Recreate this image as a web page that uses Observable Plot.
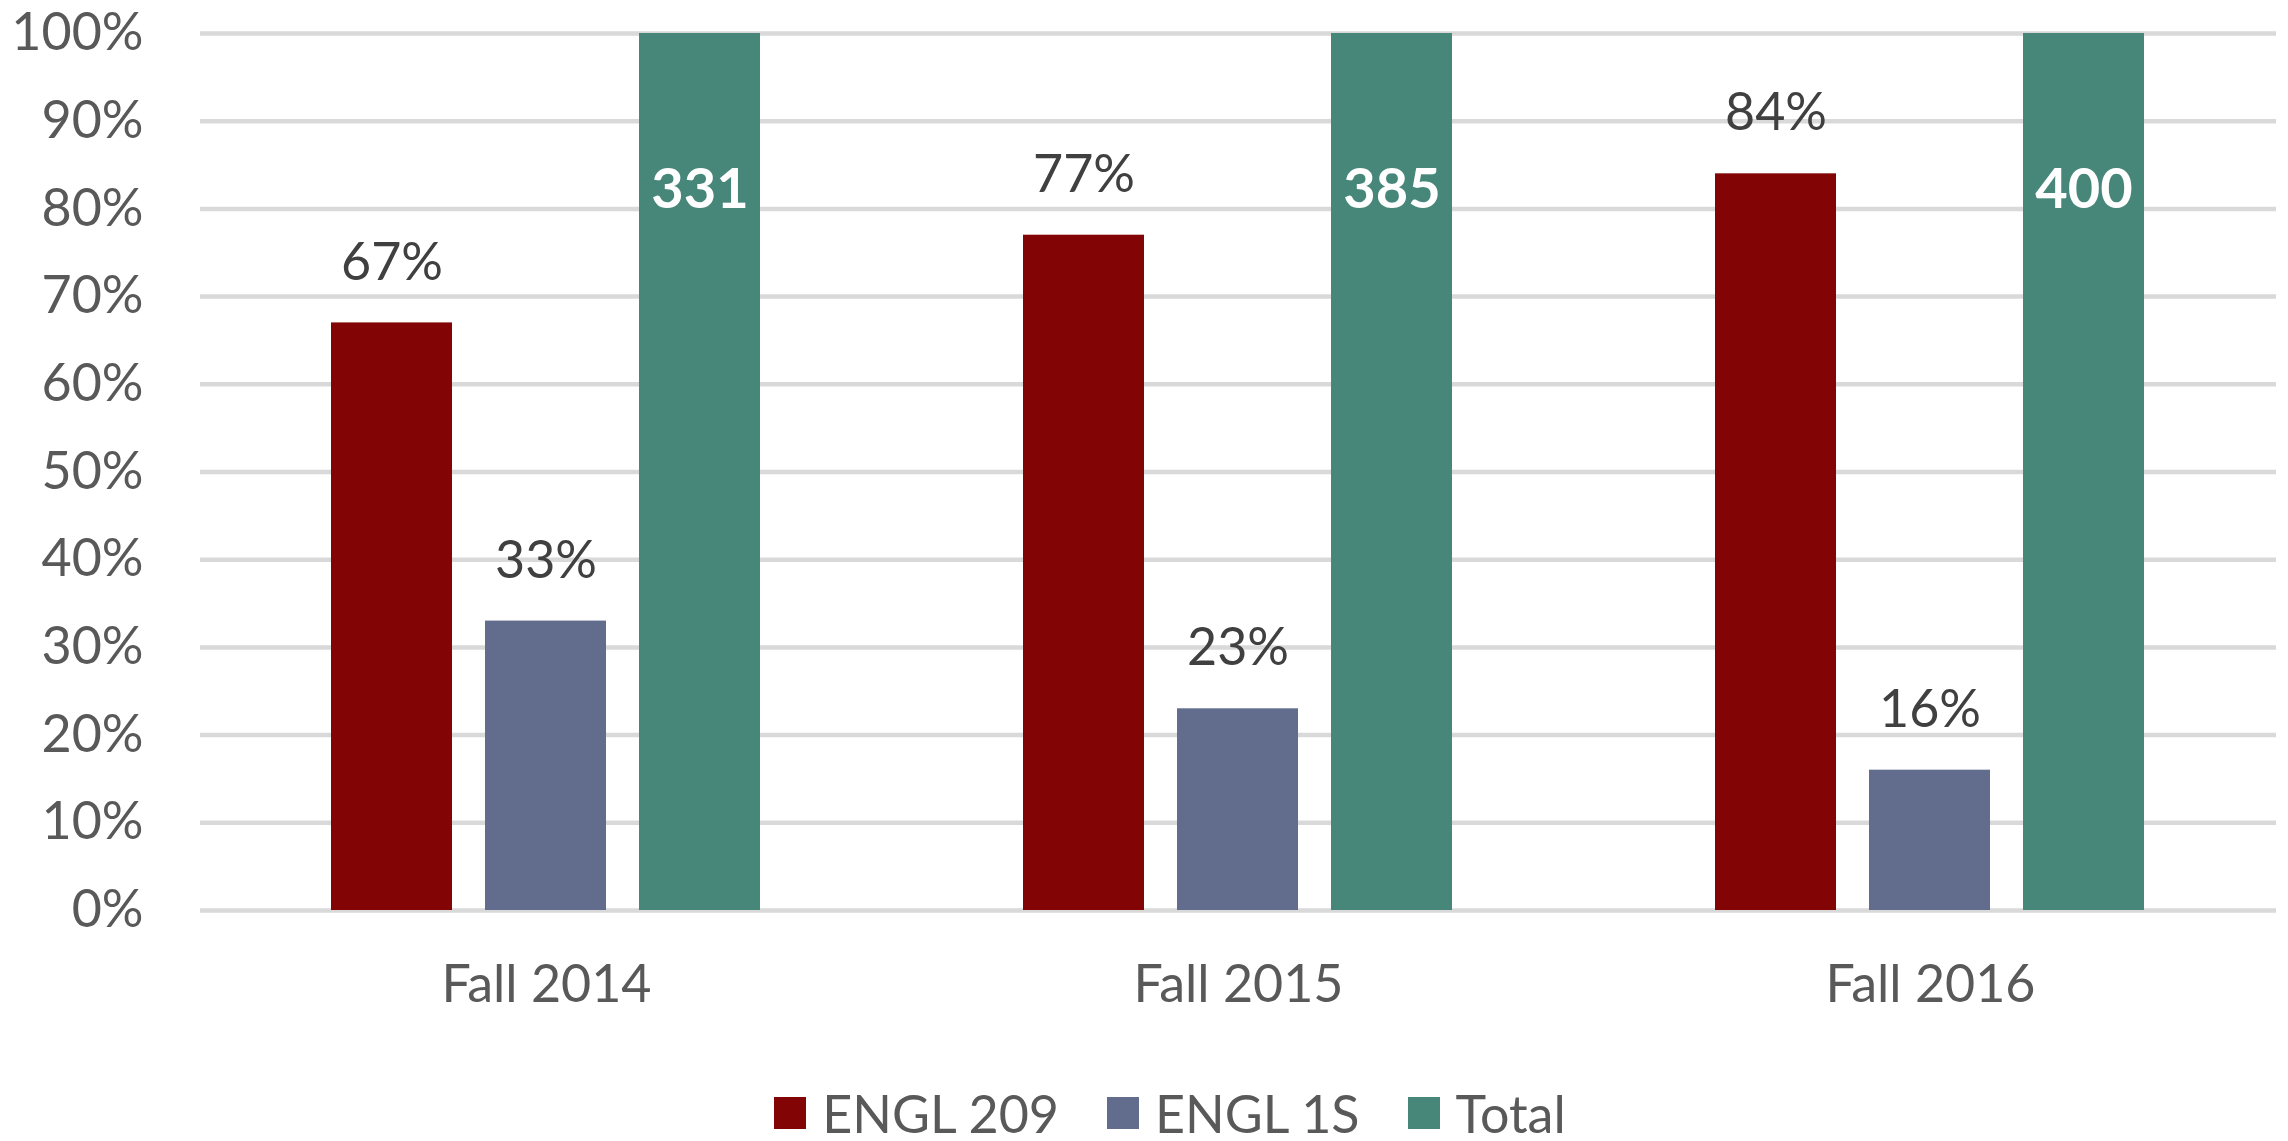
<!DOCTYPE html>
<html>
<head>
<meta charset="utf-8">
<script src="https://cdn.jsdelivr.net/npm/d3@7"></script>
<script src="https://cdn.jsdelivr.net/npm/@observablehq/plot@0.6"></script>
<style>
  html, body { margin: 0; padding: 0; background: #fff; }
  body { width: 2288px; height: 1141px; overflow: hidden; font-family: Lato, "Open Sans", sans-serif; }
  #chart svg { display: block; }
  #legend { display: flex; justify-content: center; align-items: center; height: 56px; padding-left: 52px; box-sizing: border-box; width: 2288px; }
  .item { display: flex; align-items: center; margin: 0 24px; }
  .sw { width: 32px; height: 32px; margin-right: 16px; }
  .lab { font-size: 52px; line-height: 1; color: #595959; }
</style>
</head>
<body>
<div id="chart"></div>
<div id="legend"></div>
<script>
const terms = ["Fall 2014", "Fall 2015", "Fall 2016"];
const seriesNames = ["ENGL 209", "ENGL 1S", "Total"];
const engl209 = [0.67, 0.77, 0.84];
const engl1S = [0.33, 0.23, 0.16];
const totalShare = [1, 1, 1];
const totalCount = [331, 385, 400];
const yTicks = [0, 0.1, 0.2, 0.3, 0.4, 0.5, 0.6, 0.7, 0.8, 0.9, 1];
const colors = ["#820404", "#626c8d", "#47877a"];

const rows = [];
terms.forEach((t, i) => {
  rows.push({term: t, series: "ENGL 209", value: engl209[i], label: Math.round(engl209[i] * 100) + "%"});
  rows.push({term: t, series: "ENGL 1S", value: engl1S[i], label: Math.round(engl1S[i] * 100) + "%"});
  rows.push({term: t, series: "Total", value: totalShare[i], label: String(totalCount[i])});
});
const pctRows = rows.filter(d => d.series !== "Total");
const totRows = rows.filter(d => d.series === "Total");

const chart = Plot.plot({
  width: 2288,
  height: 1085,
  marginTop: 33,
  marginBottom: 175,
  marginLeft: 200,
  marginRight: 12,
  style: {fontFamily: "Lato, 'Open Sans', sans-serif", background: "#fff"},
  fx: {domain: terms, padding: 0, axis: null, label: null},
  x: {domain: seriesNames, paddingInner: 0.214, paddingOuter: 0.852, axis: null, label: null},
  y: {domain: [0, 1], axis: null, label: null},
  color: {domain: seriesNames, range: colors},
  marks: [
    Plot.gridY(yTicks, {stroke: "#d9d9d9", strokeOpacity: 1, strokeWidth: 4.5}),
    Plot.axisY(yTicks, {
      tickSize: 0, tickPadding: 57, fontSize: 52, fill: "#595959", label: null,
      tickFormat: d => Math.round(d * 100) + "%"
    }),
    Plot.barY(rows, {fx: "term", x: "series", y: "value", fill: "series"}),
    Plot.text(pctRows, {
      fx: "term", x: "series", y: "value", text: "label",
      dy: -60, fontSize: 52, fill: "#404040", lineAnchor: "middle"
    }),
    Plot.text(totRows, {
      fx: "term", x: "series", y: "value", text: "label",
      dy: 157, fontSize: 56, fontWeight: "bold", fill: "#ffffff", lineAnchor: "middle"
    }),
    Plot.text(terms, {
      fx: d => d, text: d => d, frameAnchor: "bottom", dy: 75,
      fontSize: 52, fill: "#595959", lineAnchor: "middle"
    })
  ]
});
document.getElementById("chart").appendChild(chart);

const legend = document.getElementById("legend");
seriesNames.forEach((s, i) => {
  const item = document.createElement("div");
  item.className = "item";
  const sw = document.createElement("div");
  sw.className = "sw";
  sw.style.background = colors[i];
  const lab = document.createElement("span");
  lab.className = "lab";
  lab.textContent = s;
  item.appendChild(sw);
  item.appendChild(lab);
  legend.appendChild(item);
});
</script>
</body>
</html>
